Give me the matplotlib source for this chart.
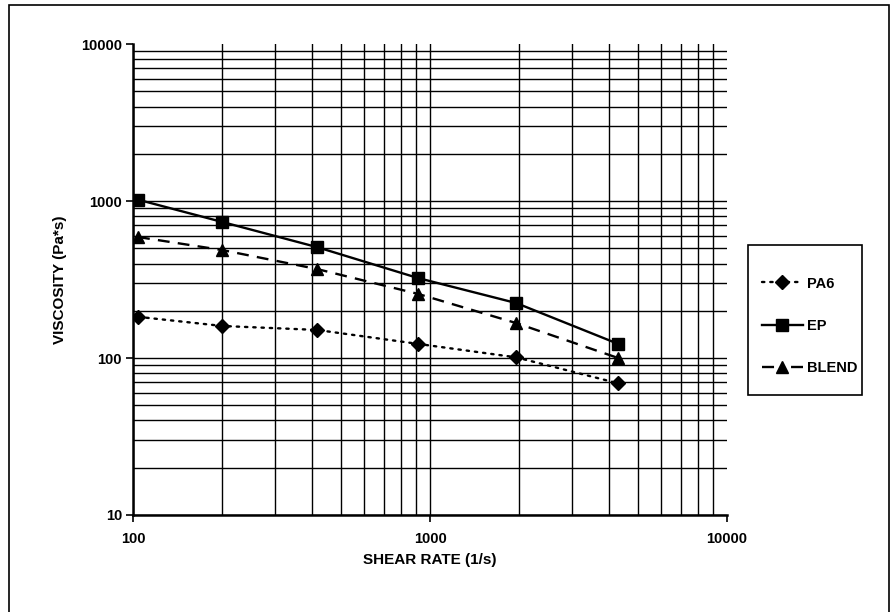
import matplotlib
matplotlib.use("Agg")
import matplotlib.pyplot as plt
from matplotlib.patches import Rectangle
from matplotlib.ticker import LogLocator, FixedLocator, NullFormatter

# data (log-log viscosity curves)
shear_rate = [104, 200, 416, 912, 1950, 4300]
pa6 = [183, 160, 151, 123, 101, 69]
ep = [1020, 735, 509, 323, 224, 123]
blend = [590, 487, 369, 256, 167, 100]

x_ticks = [100, 1000, 10000]
x_tick_labels = ["100", "1000", "10000"]
y_ticks = [10, 100, 1000, 10000]
y_tick_labels = ["10", "100", "1000", "10000"]

plt.rcParams['font.family'] = ['Liberation Sans', 'DejaVu Sans']

fig = plt.figure(figsize=(8.91, 6.12), dpi=100)
ax = fig.add_axes([0.1493, 0.1585, 0.8160 - 0.1493, 0.928 - 0.1585])

ax.plot(shear_rate, pa6, color='black', linestyle=(0, (1, 2.5)), linewidth=1.7,
        marker='D', markersize=7, label='PA6', dash_capstyle='round')
ax.plot(shear_rate, ep, color='black', linestyle='-', linewidth=1.7,
        marker='s', markersize=8, label='EP')
ax.plot(shear_rate, blend, color='black', linestyle=(0, (5, 3.5)), linewidth=1.7,
        marker='^', markersize=8.5, label='BLEND')

ax.set_xscale('log')
ax.set_yscale('log')
ax.set_xlim(100, 10000)
ax.set_ylim(10, 10000)

ax.xaxis.set_major_locator(FixedLocator(x_ticks))
ax.yaxis.set_major_locator(FixedLocator(y_ticks))
ax.set_xticklabels(x_tick_labels)
ax.set_yticklabels(y_tick_labels)
ax.xaxis.set_minor_locator(LogLocator(base=10, subs=range(2, 10)))
ax.yaxis.set_minor_locator(LogLocator(base=10, subs=range(2, 10)))
ax.xaxis.set_minor_formatter(NullFormatter())
ax.yaxis.set_minor_formatter(NullFormatter())

ax.grid(True, which='both', color='black', linewidth=1.0)
ax.set_axisbelow(True)
ax.tick_params(which='major', direction='out', length=5, width=1.2, labelsize=10.5,
               colors='black')
ax.tick_params(axis='x', which='major', pad=7)
ax.tick_params(axis='y', which='major', pad=3)
ax.tick_params(which='minor', length=0)
for lab in ax.get_xticklabels() + ax.get_yticklabels():
    lab.set_fontweight('bold')

# no gridline along the open top / right edges
for tick in ax.xaxis.get_major_ticks():
    if tick.get_loc() >= 10000:
        tick.gridline.set_visible(False)
for tick in ax.yaxis.get_major_ticks():
    if tick.get_loc() >= 10000:
        tick.gridline.set_visible(False)

for side in ['top', 'right']:
    ax.spines[side].set_visible(False)
for side in ['left', 'bottom']:
    ax.spines[side].set_linewidth(1.8)

ax.set_xlabel('SHEAR RATE (1/s)', fontsize=11, fontweight='bold', labelpad=5)
ax.set_ylabel('VISCOSITY (Pa*s)', fontsize=11, fontweight='bold', labelpad=10)

# legend without its own frame, box drawn separately
leg = fig.legend(loc='center left', bbox_to_anchor=(762 / 891, 1 - 326 / 612),
                 frameon=False, prop={'weight': 'bold', 'size': 10.5},
                 labelspacing=1.95, handlelength=2.8, borderpad=0,
                 handletextpad=0.3, borderaxespad=0)
# dash - marker - dash look for the BLEND key
leg.get_lines()[2].set_linestyle((0, (5.1, 7.2)))
fig.patches.append(Rectangle((748 / 891, 1 - 395 / 612), 114 / 891, 150 / 612,
                             transform=fig.transFigure, fill=False,
                             edgecolor='black', linewidth=1.2))

# outer chart border
fig.patches.append(Rectangle((9 / 891, -0.05), 880 / 891, 1.05 - 5 / 612,
                             transform=fig.transFigure, fill=False,
                             edgecolor='black', linewidth=1.2))

fig.savefig('out.png', dpi=100)
